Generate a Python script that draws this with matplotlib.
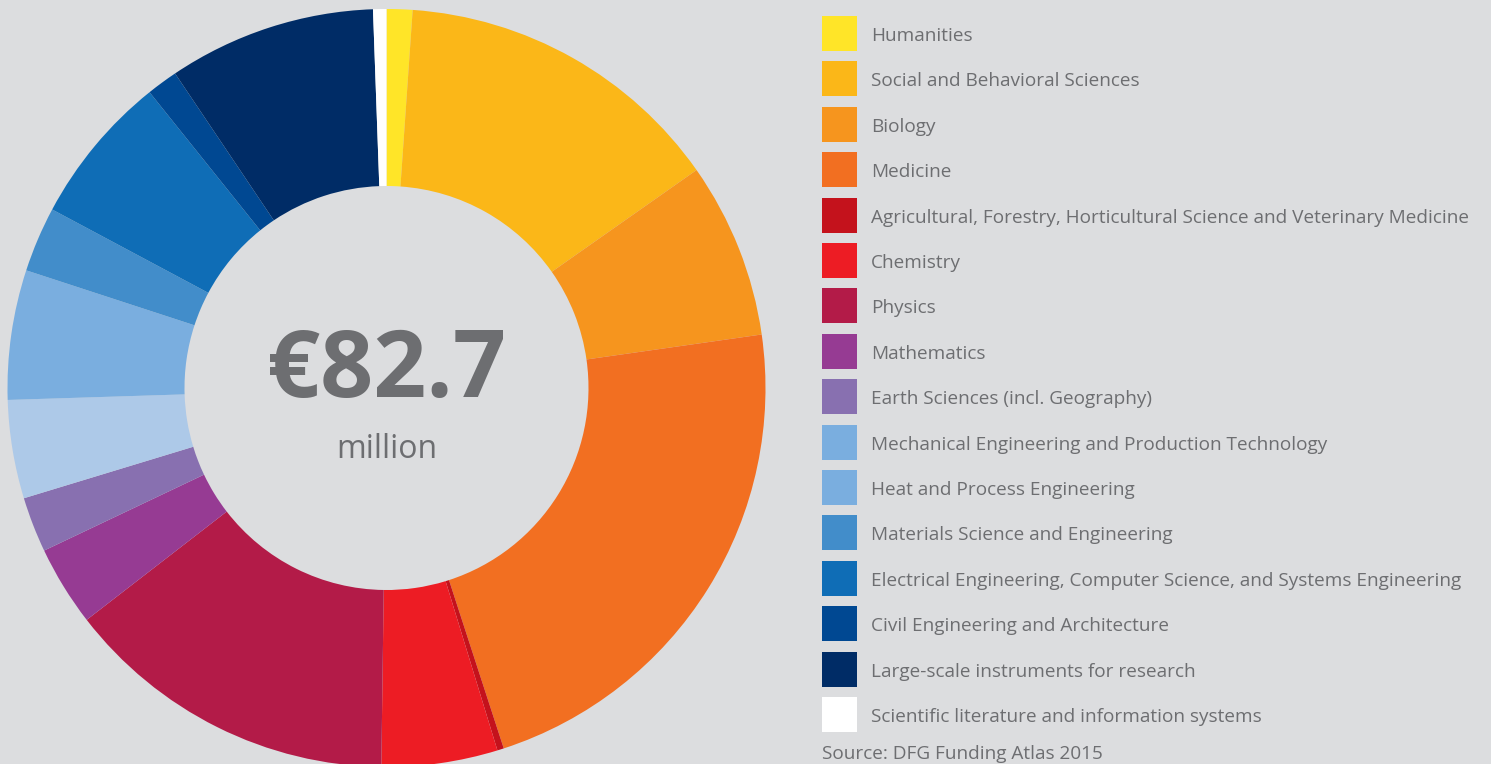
import matplotlib
matplotlib.use("Agg")
import matplotlib.pyplot as plt
from matplotlib.patches import Rectangle

plt.rcParams['font.family'] = ['Open Sans', 'DejaVu Sans']

categories = [
    "Humanities",
    "Social and Behavioral Sciences",
    "Biology",
    "Medicine",
    "Agricultural, Forestry, Horticultural Science and Veterinary Medicine",
    "Chemistry",
    "Physics",
    "Mathematics",
    "Earth Sciences (incl. Geography)",
    "Mechanical Engineering and Production Technology",
    "Heat and Process Engineering",
    "Materials Science and Engineering",
    "Electrical Engineering, Computer Science, and Systems Engineering",
    "Civil Engineering and Architecture",
    "Large-scale instruments for research",
    "Scientific literature and information systems",
]
values_million = [0.91, 11.70, 6.20, 18.40, 0.23, 4.09, 11.83, 2.83, 1.95,
                  3.47, 4.57, 2.30, 5.33, 1.10, 7.32, 0.47]
total_label = "€82.7"
unit_label = "million"
source_label = "Source: DFG Funding Atlas 2015"

slice_colors = ["#ffe528", "#fbb718", "#f6951e", "#f26f21", "#c4121c", "#ed1c24",
                "#b31b48", "#963b93", "#8870b0", "#adc9e8", "#7aaedf", "#428dca",
                "#0f6db6", "#004892", "#002c66", "#ffffff"]
swatch_colors = ["#ffe528", "#fbb718", "#f6951e", "#f26f21", "#c4121c", "#ed1c24",
                 "#b31b48", "#963b93", "#8870b0", "#7aaedf", "#7aaedf", "#428dca",
                 "#0f6db6", "#004892", "#002c66", "#ffffff"]

BG = "#dcdddf"
TXT = "#6d6e71"
W, H = 1491, 764
fig = plt.figure(figsize=(W / 100, H / 100), dpi=100, facecolor=BG)

cx, cy, R = 386.5, 388, 379
ax = fig.add_axes([(cx - R) / W, (H - cy - R) / H, 2 * R / W, 2 * R / H])
ax.set_facecolor(BG)
ax.pie(values_million, colors=slice_colors, startangle=90, counterclock=False,
       radius=1.0, wedgeprops=dict(width=177 / R, linewidth=0.3, edgecolor=None))
ax.set_xlim(-1, 1)
ax.set_ylim(-1, 1)
ax.set_aspect('equal')
ax.axis('off')

ov = fig.add_axes([0, 0, 1, 1])
ov.set_xlim(0, W)
ov.set_ylim(H, 0)
ov.axis('off')
ov.patch.set_alpha(0)

ov.text(cx, 372, total_label, ha='center', va='center', fontsize=67,
        fontweight='bold', color=TXT)
ov.text(cx, 450, unit_label, ha='center', va='center', fontsize=23, color=TXT)

top0, step, sw = 16, 45.4, 35
for i, (lab, col) in enumerate(zip(categories, swatch_colors)):
    y = top0 + i * step
    ov.add_patch(Rectangle((822, y), sw, sw, facecolor=col, edgecolor='none'))
    ov.text(871, y + sw / 2 + 2.5, lab, ha='left', va='center', fontsize=13.7, color=TXT)

ov.text(822, 763, source_label, ha='left', va='bottom', fontsize=13.7, color=TXT)

fig.savefig("out.png", dpi=100, facecolor=BG)
